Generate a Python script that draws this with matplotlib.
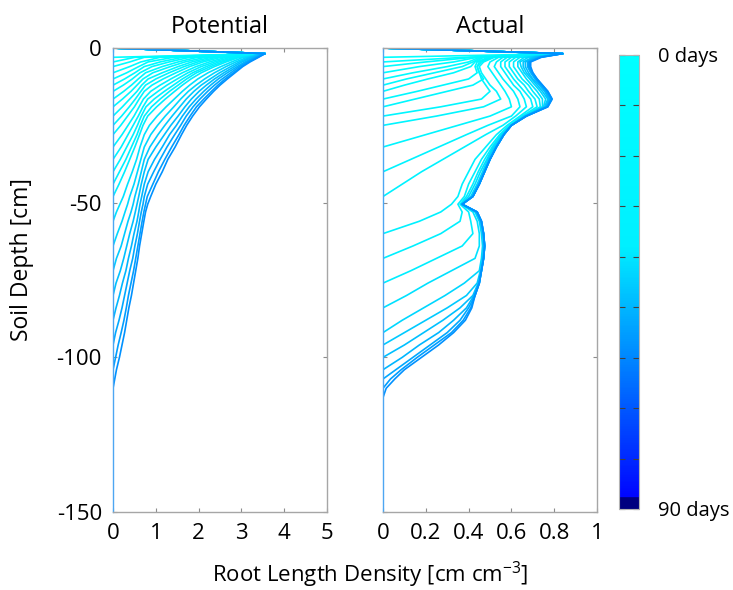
"""Root length density profiles: potential vs actual, coloured by simulation day"""

import matplotlib
matplotlib.use("Agg")
import matplotlib.pyplot as plt
from matplotlib.cm import ScalarMappable
from matplotlib.colors import LinearSegmentedColormap, Normalize

plt.rcParams["font.family"] = ["Open Sans", "DejaVu Sans"]
plt.rcParams["mathtext.fontset"] = "custom"
plt.rcParams["mathtext.rm"] = "Open Sans"
plt.rcParams["axes.unicode_minus"] = False

# soil depth nodes [cm], shared by every profile
depth_cm = [0, 1.8, 3, 4.5, 6, 8, 10, 12, 14, 16.5, 19, 22, 25, 28, 32, 36, 40, 44,
            48, 50.5, 53, 56, 60, 64, 68, 72, 76, 80, 84, 88, 92, 96, 100, 104, 107, 110, 113]

# output day of each profile
days = [0, 2, 5, 7, 10, 12, 14, 17, 19, 22, 24, 26, 29, 31, 34, 36, 38, 41, 43, 46, 48, 50, 53, 55, 58]

# each row runs from the surface down to the rooting front (last value is 0)
potential_rld = [
    [0, 3.55, 0],
    [0, 3.55, 0.51, 0],
    [0, 3.55, 0.73, 0.39, 0],
    [0, 3.55, 1.10, 0.65, 0.39, 0],
    [0, 3.55, 1.41, 0.82, 0.60, 0.32, 0],
    [0, 3.55, 1.62, 1.10, 0.73, 0.51, 0.27, 0],
    [0, 3.55, 1.79, 1.31, 0.91, 0.63, 0.45, 0.24, 0],
    [0, 3.55, 1.97, 1.52, 1.15, 0.76, 0.59, 0.43, 0.25, 0],
    [0, 3.55, 2.15, 1.68, 1.34, 0.93, 0.70, 0.56, 0.42, 0.22, 0],
    [0, 3.55, 2.29, 1.84, 1.52, 1.15, 0.82, 0.67, 0.56, 0.39, 0.22, 0],
    [0, 3.55, 2.41, 1.98, 1.66, 1.31, 1.00, 0.76, 0.65, 0.52, 0.38, 0.20, 0],
    [0, 3.55, 2.52, 2.10, 1.79, 1.47, 1.17, 0.91, 0.73, 0.61, 0.50, 0.34, 0.18, 0],
    [0, 3.55, 2.64, 2.25, 1.94, 1.62, 1.35, 1.10, 0.88, 0.71, 0.61, 0.49, 0.35, 0.21, 0],
    [0, 3.55, 2.74, 2.37, 2.06, 1.75, 1.50, 1.26, 1.05, 0.81, 0.70, 0.59, 0.47, 0.35, 0.19, 0],
    [0, 3.55, 2.83, 2.47, 2.18, 1.86, 1.62, 1.41, 1.20, 0.96, 0.77, 0.66, 0.57, 0.47, 0.32,
     0.17, 0],
    [0, 3.55, 2.90, 2.56, 2.28, 1.95, 1.72, 1.52, 1.32, 1.10, 0.90, 0.73, 0.64, 0.56, 0.43,
     0.30, 0.15, 0],
    [0, 3.55, 2.95, 2.64, 2.37, 2.06, 1.82, 1.62, 1.44, 1.22, 1.02, 0.81, 0.70, 0.62, 0.51,
     0.39, 0.27, 0.14, 0],
    [0, 3.55, 3.04, 2.77, 2.52, 2.22, 1.98, 1.79, 1.62, 1.43, 1.24, 1.03, 0.85, 0.73, 0.63,
     0.55, 0.45, 0.34, 0.24, 0.16, 0.08, 0],
    [0, 3.55, 3.13, 2.87, 2.64, 2.37, 2.14, 1.94, 1.76, 1.58, 1.42, 1.22, 1.04, 0.88, 0.73,
     0.65, 0.57, 0.49, 0.39, 0.34, 0.28, 0.21, 0.10, 0],
    [0, 3.55, 3.19, 2.95, 2.75, 2.49, 2.27, 2.06, 1.89, 1.71, 1.56, 1.38, 1.21, 1.05, 0.86,
     0.73, 0.66, 0.59, 0.51, 0.47, 0.42, 0.35, 0.27, 0.19, 0.08, 0],
    [0, 3.55, 3.25, 3.01, 2.83, 2.59, 2.37, 2.18, 2.01, 1.83, 1.68, 1.52, 1.35, 1.20, 1.00,
     0.82, 0.73, 0.66, 0.60, 0.56, 0.52, 0.47, 0.39, 0.32, 0.25, 0.17, 0.07, 0],
    [0, 3.55, 3.30, 3.08, 2.90, 2.67, 2.46, 2.28, 2.12, 1.94, 1.78, 1.62, 1.48, 1.32, 1.15,
     0.97, 0.82, 0.73, 0.67, 0.63, 0.60, 0.56, 0.49, 0.43, 0.36, 0.30, 0.22, 0.15, 0.07, 0],
    [0, 3.55, 3.34, 3.13, 2.95, 2.75, 2.55, 2.37, 2.21, 2.03, 1.87, 1.71, 1.58, 1.44, 1.26,
     1.10, 0.95, 0.81, 0.73, 0.70, 0.66, 0.62, 0.57, 0.51, 0.46, 0.39, 0.33, 0.27, 0.21,
     0.14, 0.06, 0],
    [0, 3.55, 3.38, 3.17, 3.00, 2.81, 2.62, 2.45, 2.30, 2.12, 1.95, 1.80, 1.66, 1.54, 1.37,
     1.21, 1.06, 0.93, 0.80, 0.76, 0.72, 0.68, 0.63, 0.58, 0.53, 0.48, 0.42, 0.36, 0.31,
     0.255, 0.19, 0.12, 0.06, 0],
    [0, 3.55, 3.40, 3.20, 3.03, 2.85, 2.67, 2.50, 2.35, 2.18, 2.02, 1.86, 1.72, 1.60, 1.45,
     1.28, 1.15, 1.00, 0.88, 0.81, 0.76, 0.72, 0.67, 0.62, 0.58, 0.53, 0.48, 0.43, 0.37,
     0.32, 0.27, 0.21, 0.15, 0.08, 0.04, 0],
]

actual_rld = [
    [0, 0.84, 0],
    [0, 0.84, 0.38, 0],
    [0, 0.84, 0.42, 0.20, 0],
    [0, 0.84, 0.44, 0.33, 0.17, 0],
    [0, 0.84, 0.45, 0.40, 0.30, 0.14, 0],
    [0, 0.84, 0.46, 0.42, 0.37, 0.24, 0.11, 0],
    [0, 0.84, 0.47, 0.43, 0.41, 0.33, 0.21, 0.10, 0],
    [0, 0.84, 0.49, 0.44, 0.43, 0.44, 0.40, 0.28, 0.16, 0],
    [0, 0.84, 0.50, 0.45, 0.44, 0.45, 0.47, 0.42, 0.30, 0.15, 0],
    [0, 0.84, 0.51, 0.46, 0.44, 0.45, 0.46, 0.48, 0.50, 0.46, 0.27, 0],
    [0, 0.84, 0.52, 0.47, 0.45, 0.46, 0.48, 0.50, 0.53, 0.55, 0.47, 0.25, 0],
    [0, 0.84, 0.54, 0.50, 0.49, 0.51, 0.53, 0.55, 0.57, 0.59, 0.60, 0.50, 0.35, 0.20, 0],
    [0, 0.84, 0.56, 0.53, 0.52, 0.54, 0.56, 0.585, 0.61, 0.63, 0.64, 0.60, 0.49, 0.39, 0.26,
     0.13, 0],
    [0, 0.84, 0.58, 0.55, 0.55, 0.57, 0.59, 0.61, 0.64, 0.66, 0.67, 0.62, 0.56, 0.48, 0.38,
     0.28, 0.18, 0.09, 0],
    [0, 0.84, 0.60, 0.57, 0.57, 0.59, 0.61, 0.635, 0.66, 0.69, 0.70, 0.64, 0.58, 0.53, 0.48,
     0.43, 0.40, 0.37, 0.35, 0.32, 0.27, 0.17, 0],
    [0, 0.84, 0.62, 0.59, 0.59, 0.61, 0.63, 0.66, 0.68, 0.71, 0.72, 0.65, 0.59, 0.545, 0.50,
     0.46, 0.43, 0.40, 0.38, 0.35, 0.37, 0.36, 0.27, 0.14, 0],
    [0, 0.84, 0.64, 0.61, 0.61, 0.63, 0.65, 0.68, 0.70, 0.73, 0.735, 0.655, 0.595, 0.55, 0.51,
     0.475, 0.445, 0.42, 0.39, 0.36, 0.40, 0.41, 0.42, 0.37, 0.25, 0.13, 0],
    [0, 0.84, 0.66, 0.63, 0.63, 0.65, 0.67, 0.695, 0.72, 0.745, 0.745, 0.66, 0.60, 0.555,
     0.515, 0.485, 0.455, 0.43, 0.40, 0.365, 0.42, 0.44, 0.45, 0.45, 0.43, 0.32, 0.21, 0.11, 0],
    [0, 0.84, 0.68, 0.64, 0.645, 0.66, 0.685, 0.71, 0.735, 0.76, 0.75, 0.665, 0.60, 0.56,
     0.52, 0.49, 0.465, 0.44, 0.41, 0.37, 0.43, 0.45, 0.46, 0.465, 0.46, 0.45, 0.38, 0.29,
     0.19, 0.09, 0],
    [0, 0.84, 0.70, 0.655, 0.655, 0.67, 0.695, 0.72, 0.745, 0.77, 0.755, 0.665, 0.60, 0.56,
     0.525, 0.495, 0.47, 0.445, 0.415, 0.37, 0.435, 0.455, 0.465, 0.47, 0.465, 0.455, 0.44,
     0.39, 0.30, 0.20, 0.10, 0],
    [0, 0.84, 0.71, 0.665, 0.665, 0.68, 0.70, 0.73, 0.755, 0.775, 0.76, 0.665, 0.60, 0.565,
     0.53, 0.50, 0.475, 0.45, 0.42, 0.37, 0.435, 0.455, 0.47, 0.475, 0.47, 0.46, 0.445, 0.42,
     0.36, 0.28, 0.19, 0.10, 0],
    [0, 0.84, 0.72, 0.675, 0.675, 0.69, 0.71, 0.735, 0.76, 0.78, 0.765, 0.67, 0.60, 0.565,
     0.53, 0.50, 0.475, 0.45, 0.42, 0.37, 0.44, 0.46, 0.47, 0.475, 0.47, 0.46, 0.45, 0.425,
     0.39, 0.33, 0.26, 0.17, 0.09, 0],
    [0, 0.84, 0.73, 0.68, 0.68, 0.695, 0.715, 0.74, 0.765, 0.785, 0.765, 0.67, 0.60, 0.565,
     0.53, 0.50, 0.475, 0.45, 0.42, 0.37, 0.44, 0.46, 0.47, 0.475, 0.47, 0.46, 0.45, 0.43,
     0.40, 0.36, 0.30, 0.22, 0.14, 0.06, 0],
    [0, 0.84, 0.735, 0.685, 0.685, 0.70, 0.72, 0.745, 0.77, 0.79, 0.77, 0.67, 0.60, 0.565,
     0.53, 0.50, 0.475, 0.45, 0.42, 0.37, 0.44, 0.46, 0.47, 0.475, 0.47, 0.46, 0.45, 0.43,
     0.41, 0.375, 0.32, 0.24, 0.16, 0.085, 0.035, 0],
    [0, 0.84, 0.74, 0.69, 0.69, 0.70, 0.72, 0.745, 0.77, 0.79, 0.77, 0.67, 0.60, 0.565,
     0.53, 0.50, 0.475, 0.45, 0.42, 0.37, 0.44, 0.46, 0.47, 0.475, 0.47, 0.46, 0.45, 0.43,
     0.415, 0.385, 0.33, 0.26, 0.18, 0.10, 0.055, 0.015, 0],
]

# cyan -> blue -> navy, like the lower part of jet (0 days = cyan)
day_cmap = LinearSegmentedColormap.from_list(
    "days",
    [(0.0, (0, 1, 1)), (0.42, (0, 0.94, 1)), (0.974, (0, 0.02, 1)),
     (0.977, (0, 0, 0.5)), (1.0, (0, 0, 0.5))],
    N=256,
)
norm = Normalize(0, 90)

fig = plt.figure(figsize=(7.33, 5.90), dpi=100)
ax_pot = fig.add_axes([0.1542, 0.1322, 0.292, 0.7864])
ax_act = fig.add_axes([0.5225, 0.1322, 0.292, 0.7864])
cax = fig.add_axes([0.8445, 0.1373, 0.0273, 0.7695])


def draw_profiles(ax, profiles, xmax, title):
    for day, rld in zip(days, profiles):
        depth = [-d for d in depth_cm[:len(rld)]]
        ax.plot(rld, depth, color=day_cmap(norm(day)), lw=1.2, solid_joinstyle="round")
    ax.set_xlim(0, xmax)
    ax.set_ylim(-150, 0)
    ax.set_yticks([0, -50, -100, -150])
    ax.set_title(title, fontsize=17, pad=11)
    ax.tick_params(direction="in", top=True, right=True, length=3, width=0.8,
                   color="0.55", labelsize=16, pad=8)
    for spine in ax.spines.values():
        spine.set_color("0.65")
        spine.set_linewidth(1.0)
    # zero root density below the fronts sits on the left edge
    ax.spines["left"].set_color((0.3, 0.65, 0.95))


draw_profiles(ax_pot, potential_rld, 5, "Potential")
ax_pot.set_xticks([0, 1, 2, 3, 4, 5])

draw_profiles(ax_act, actual_rld, 1, "Actual")
ax_act.set_xticks([0, 0.2, 0.4, 0.6, 0.8, 1])
ax_act.set_xticklabels(["0", "0.2", "0.4", "0.6", "0.8", "1"])
ax_act.tick_params(labelleft=False)

sm = ScalarMappable(norm=norm, cmap=day_cmap)
cb = fig.colorbar(sm, cax=cax)
cax.invert_yaxis()
cb.set_ticks(list(range(0, 91, 10)))
cb.set_ticklabels(["0 days"] + [""] * 8 + ["90 days"])
cax.tick_params(direction="in", left=True, right=True, length=4, width=0.8,
                color="0.25", labelsize=14.5, pad=14)
cb.outline.set_edgecolor("0.7")

fig.text(0.505, 0.026, "Root Length Density [cm cm$^{\\mathregular{-3}}$]",
         ha="center", va="center", fontsize=16)
fig.text(0.03, 0.56, "Soil Depth [cm]", rotation=90, ha="center", va="center",
         fontsize=16.5)

fig.savefig("out.png", dpi=100, facecolor="white")
plt.close(fig)
